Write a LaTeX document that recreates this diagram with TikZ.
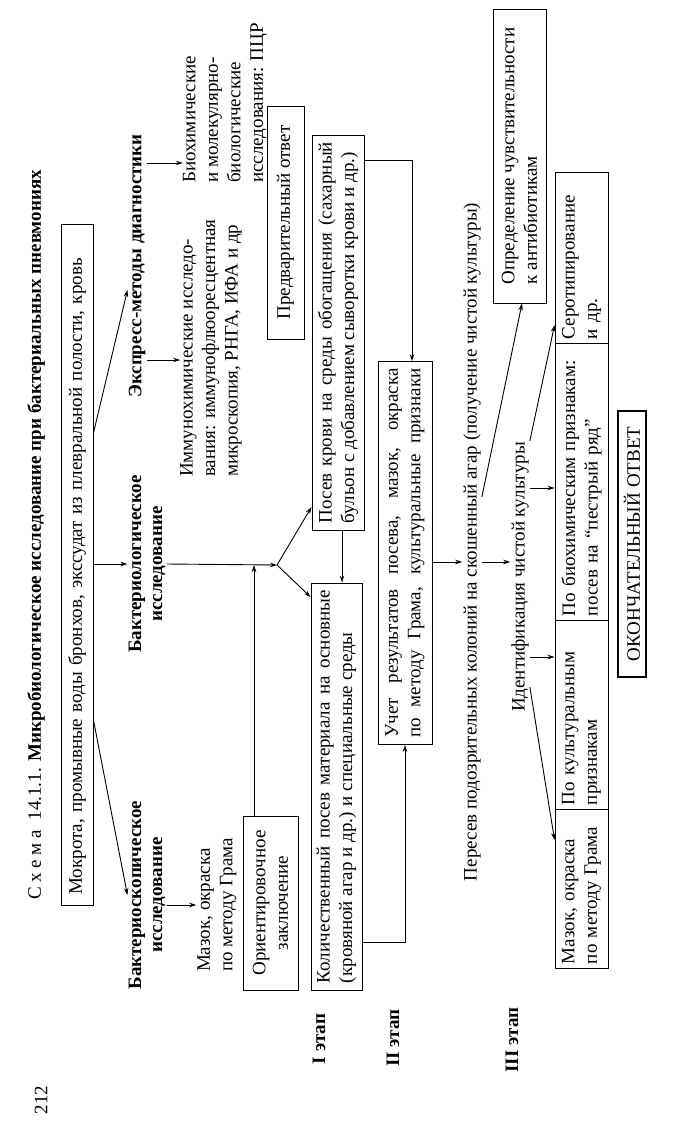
\documentclass[tikz,border=0pt]{standalone}
\usepackage{fontspec}
\setmainfont{Liberation Serif}
\usetikzlibrary{arrows.meta,calc,positioning}

\tikzset{
  >={Stealth[length=7pt,width=4.5pt]},
  txt/.style={rotate=90, inner sep=1pt, font=\fontsize{19}{22.5}\selectfont},
  hd/.style={txt, font=\fontsize{19}{21}\selectfont\bfseries},
  box/.style={txt, draw, line width=0.9pt, inner sep=4pt},
  cell/.style={box, minimum height=53pt, align=left},
  con/.style={->, line width=0.9pt},
}

\begin{document}
\begin{tikzpicture}[x=1pt,y=-1pt]
\useasboundingbox (0,0) rectangle (688,1124);

% zagolovok
\node[txt] (title) at (36,535) {С х е м а\ \ 14.1.1. \textbf{Микробиологическое исследование при бактериальных пневмониях}};
\node[txt] (page) at (41,1100) {212};

\node[box, minimum width=681pt, minimum height=32pt, text width=660pt] (src) at (77,564.5)
  {\makebox[\linewidth][s]{Мокрота, промывные воды бронхов, экссудат из плевральной полости, кровь}};

% tri napravleniya
\node[hd, align=center] (bsk) at (147,895) {Бактериоскопическое\\исследование};
\node[hd, align=center] (bsl) at (147,564) {Бактериологическое\\исследование};
\node[hd] (expr) at (137,266) {Экспресс-методы диагностики};

\node[txt, align=left] (smear) at (217,905) {Мазок, окраска\\по методу Грама};
\node[box, align=center, minimum width=174pt, minimum height=55pt] (orient) at (270.5,903) {Ориентировочное\\заключение};
\node[txt, align=left, anchor=west, inner sep=0pt] (imm) at (211,477) {Иммунохимические исследо-\\вания: иммунофлюоресцентная\\микроскопия, РНГА, ИФА и др};
\node[txt, align=left, anchor=west, inner sep=0pt] (bio) at (225,183) {Биохимические\\и молекулярно-\\биологические\\исследования: ПЦР};
\node[box, minimum width=233pt, minimum height=37pt] (prelim) at (285.5,222.5) {Предварительный ответ};

% etapy
\node[hd] (st1) at (319,1039) {I этап};
\node[hd] (st2) at (393,1038) {II этап};
\node[hd] (st3) at (512,1040) {III этап};

\node[box, text width=381pt, align=justify, minimum width=395pt, minimum height=52pt] (blood) at (338,332.5)
  {Посев крови на среды обогащения (сахарный\linebreak бульон с добавлением сыворотки крови и др.)};
\node[box, text width=393pt, align=justify, minimum width=407pt, minimum height=51pt] (quant) at (336.5,786.5)
  {Количественный посев материала на основные\linebreak (кровяной агар и др.) и специальные среды};
\node[box, text width=369pt, align=justify, minimum width=383pt, minimum height=54pt] (result) at (405,553)
  {Учет результатов посева, мазок, окраска\linebreak \makebox[\linewidth][s]{по методу Грама, культуральные признаки}};

\node[txt] (reseed) at (472,542) {Пересев подозрительных колоний на скошенный агар (получение чистой культуры)};
\node[txt] (ident) at (520,577) {Идентификация чистой культуры};
\node[box, align=left, minimum width=294pt, minimum height=53pt] (sens) at (519.5,156) {Определение чувствительности\\к антибиотикам};

% tablica III etapa
\node[cell, minimum width=159pt, text width=151pt] (c1) at (581.5,888.5) {Мазок, окраска\\по методу Грама};
\node[cell, minimum width=189pt, text width=181pt] (c2) at (581.5,714.5) {По культуральным\\признакам};
\node[cell, minimum width=277pt, text width=269pt] (c3) at (581.5,481.5) {По биохимическим признакам:\\посев на “пестрый ряд”};
\node[cell, minimum width=171pt, text width=163pt] (c4) at (581.5,257.5) {Серотипирование\\и др.};

\node[box, line width=2pt, minimum width=266pt, minimum height=28pt] (final) at (632,544) {ОКОНЧАТЕЛЬНЫЙ ОТВЕТ};

\coordinate (fork) at (277,565);

% strelki
\draw[con] (src.south |- 0,720) -- (bsk.north);
\draw[con] (src.south |- bsl) -- (bsl.north);
\draw[con] (src.south |- 0,433) -- ([yshift=-24pt]expr.north);
\draw[con] (bsk.south |- smear) -- (smear.north);
\draw[con] (expr.south |- 0,360) -- (imm.north |- 0,360);
\draw[con] (expr.south |- 0,163) -- (bio.north |- 0,163);
\draw[con] (bsl.south) -- (fork);
\draw[con] (orient.east -| 254,0) -- (254,0 |- fork);
\draw[con] (fork) -- (blood.north |- 0,507);
\draw[con] (fork) -- (quant.north |- 0,597);
\draw[con] (blood.west -| 342,0) -- (quant.east -| 342,0);
\draw[con] (quant.south |- 0,942) -| (result.west);
\draw[con] (blood.south |- 0,160) -| (412,0 |- result.east);
\draw[con] (result.south |- 0,562) -- (reseed.north |- 0,562);
\draw[con] (reseed.south |- 0,562) -- (ident.north |- 0,562);
\draw[con] (reseed.south |- 0,497) -- (sens.west -| 522,0);
\draw[con] (ident.south |- 0,687) -- (c1.north |- 0,840);
\draw[con] (ident.south |- 0,657) -- (c2.north |- 0,657);
\draw[con] (ident.south |- 0,488) -- (c3.north |- 0,488);
\draw[con] (ident.south east) -- (c4.north |- 0,325);
\end{tikzpicture}
\end{document}
